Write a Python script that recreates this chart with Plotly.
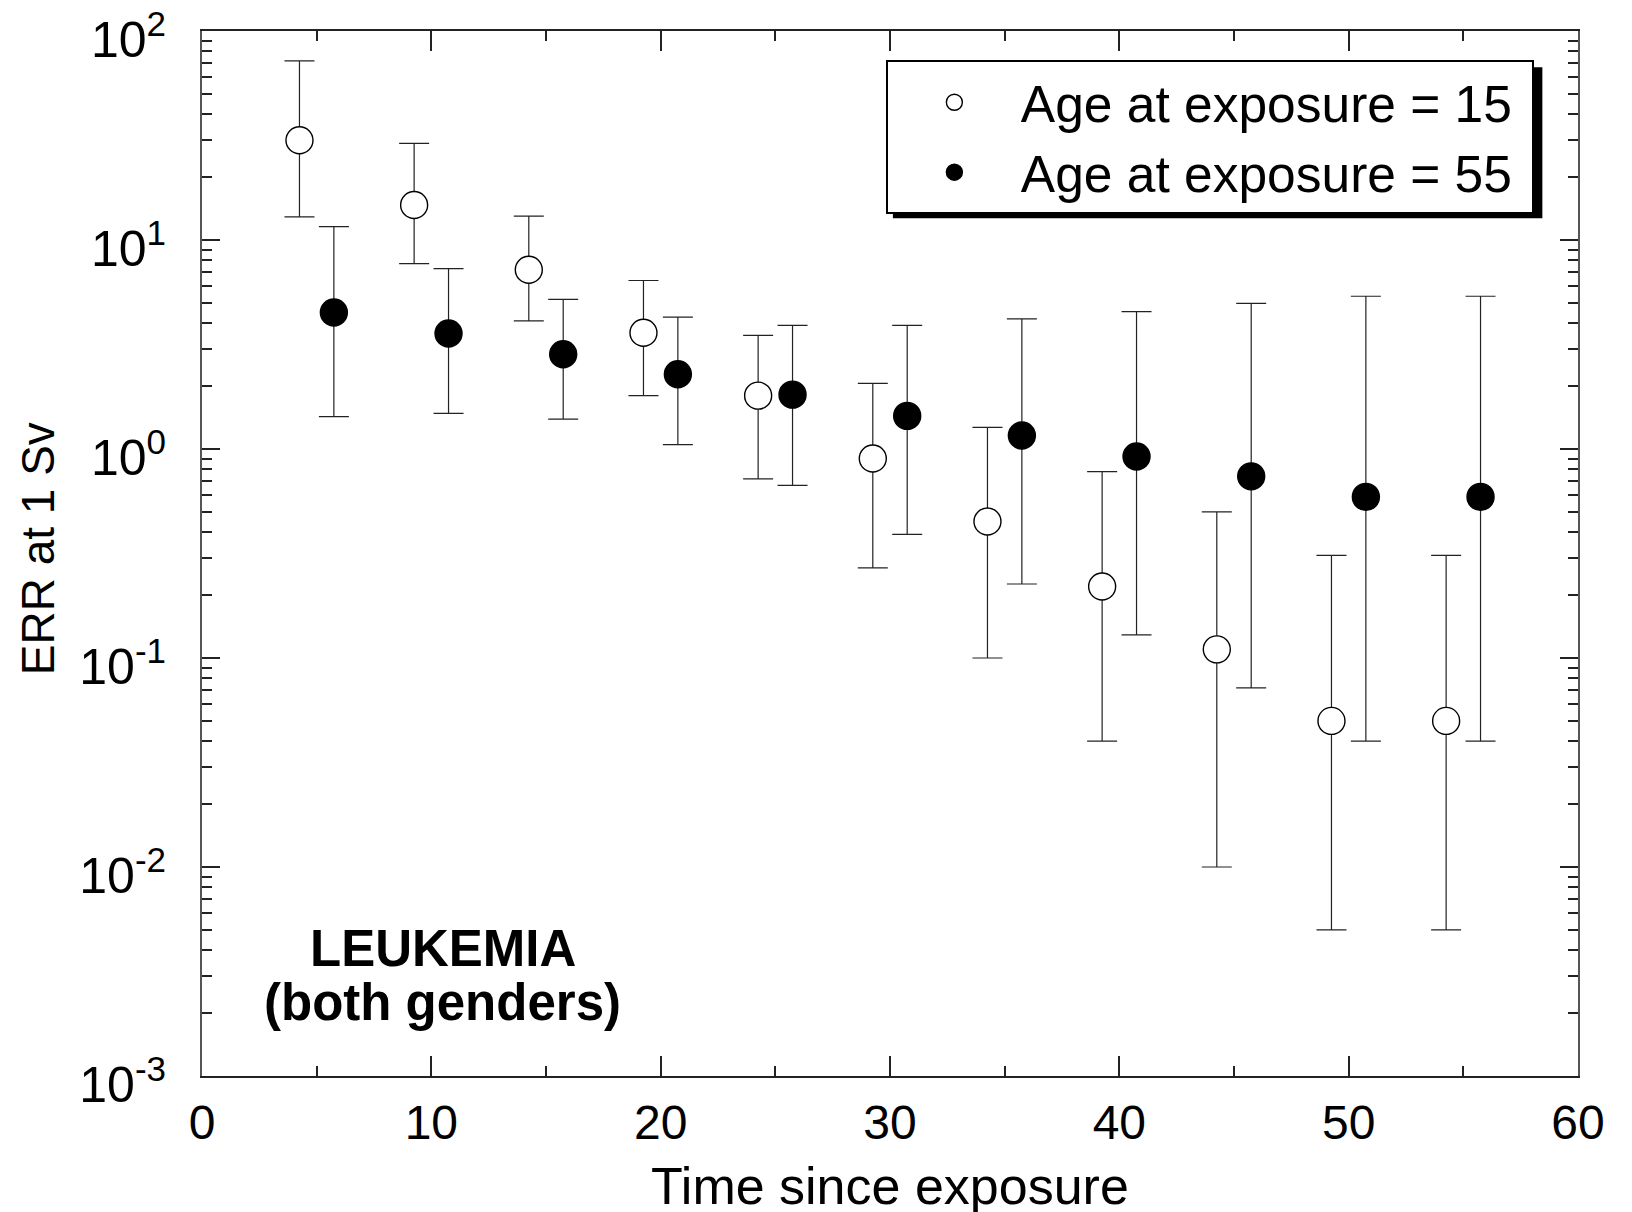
import plotly.graph_objects as go

# --- data ---
time_15 = [4.25, 9.25, 14.25, 19.25, 24.25, 29.25, 34.25, 39.25, 44.25, 49.25, 54.25]
err_15 = [30, 14.7, 7.2, 3.6, 1.8, 0.9, 0.45, 0.22, 0.11, 0.05, 0.05]
upper_15 = [72, 29, 13, 6.4, 3.5, 2.06, 1.27, 0.78, 0.50, 0.31, 0.31]
lower_15 = [12.9, 7.7, 4.1, 1.8, 0.72, 0.27, 0.10, 0.04, 0.01, 0.005, 0.005]

time_55 = [5.75, 10.75, 15.75, 20.75, 25.75, 30.75, 35.75, 40.75, 45.75, 50.75, 55.75]
err_55 = [4.5, 3.57, 2.84, 2.28, 1.82, 1.44, 1.16, 0.92, 0.74, 0.59, 0.59]
upper_55 = [11.6, 7.3, 5.2, 4.28, 3.9, 3.9, 4.19, 4.54, 4.97, 5.38, 5.38]
lower_55 = [1.43, 1.48, 1.39, 1.05, 0.67, 0.39, 0.226, 0.129, 0.072, 0.04, 0.04]

x_tickvals = [0, 10, 20, 30, 40, 50, 60]
y_tickvals = [1e-3, 1e-2, 1e-1, 1, 10, 100]
y_ticktext = ["10<sup>-3</sup>", "10<sup>-2</sup>", "10<sup>-1</sup>",
              "10<sup>0</sup>", "10<sup>1</sup>", "10<sup>2</sup>"]

FONT = "Liberation Sans, Arial, sans-serif"
NBSP = "\u00a0"

fig = go.Figure()

#--- series
for name, xs, ys, up, lo, fill in [
    ("Age at exposure = 15", time_15, err_15, upper_15, lower_15, "white"),
    ("Age at exposure = 55", time_55, err_55, upper_55, lower_55, "black"),
]:
    fig.add_trace(go.Scatter(
        x=xs, y=ys, name=name + NBSP, mode="markers",
        marker=dict(symbol="circle", size=27, color=fill,
                    line=dict(color="black", width=1.4)),
        error_y=dict(type="data", symmetric=False,
                     array=[u - v for u, v in zip(up, ys)],
                     arrayminus=[v - l for v, l in zip(ys, lo)],
                     color="#222", thickness=1.2, width=15),
    ))

#--- axes
minor_y = [k * 10.0**e for e in range(-3, 2) for k in range(2, 10)]
fig.update_xaxes(
    range=[0, 60], tickmode="array", tickvals=x_tickvals,
    ticks="inside", ticklen=20, tickwidth=1.5, tickcolor="#222",
    minor=dict(tickmode="array", tickvals=[5, 15, 25, 35, 45, 55],
               ticks="inside", ticklen=10, tickwidth=1.5, tickcolor="#222"),
    showline=True, linecolor="#222", linewidth=1.5, mirror="ticks",
    showgrid=False, zeroline=False, automargin=False,
    ticklabelstandoff=4, ticklabeloverflow="allow",
    tickfont=dict(family=FONT, size=48, color="black"),
)
fig.update_yaxes(
    type="log", range=[-3, 2], tickmode="array",
    tickvals=y_tickvals, ticktext=y_ticktext,
    ticks="inside", ticklen=18, tickwidth=1.5, tickcolor="#222",
    minor=dict(tickmode="array", tickvals=minor_y,
               ticks="inside", ticklen=10, tickwidth=1.5, tickcolor="#222"),
    showline=True, linecolor="#555", linewidth=2, mirror="ticks",
    showgrid=False, zeroline=False, automargin=False,
    ticklabelstandoff=24, ticklabelshift=8, ticklabeloverflow="allow",
    tickfont=dict(family=FONT, size=50, color="black"),
)

#--- axis titles
fig.add_annotation(xref="paper", yref="paper", x=0.5, y=-0.105,
                   text="Time since exposure", showarrow=False,
                   xanchor="center", yanchor="middle",
                   font=dict(family=FONT, size=52, color="black"))
fig.add_annotation(xref="paper", yref="paper", x=-0.1192, y=0.505,
                   text="ERR at 1 Sv", showarrow=False, textangle=-90,
                   xanchor="center", yanchor="middle",
                   font=dict(family=FONT, size=46, color="black"))

#--- labels inside plot
fig.add_annotation(x=10.5, y=-2.392, text="<b>LEUKEMIA</b>", showarrow=False,
                   font=dict(family=FONT, size=51, color="black"))
fig.add_annotation(x=10.5, y=-2.646, text="<b>(both genders)</b>", showarrow=False,
                   font=dict(family=FONT, size=51, color="black"))

#--- legend + drop shadow
fig.add_shape(type="rect", xref="paper", yref="paper",
              x0=0.5021, x1=0.9741, y0=0.8207, y1=0.9653,
              fillcolor="black", line=dict(width=0), layer="below")
fig.update_layout(
    width=1632, height=1212,
    margin=dict(l=194, r=62, t=23, b=144),
    plot_bgcolor="white", paper_bgcolor="white",
    font=dict(family=FONT, color="black"),
    legend=dict(x=0.497, y=0.972, xanchor="left", yanchor="top",
                bgcolor="white", bordercolor="black", borderwidth=2,
                font=dict(family=FONT, size=51.5, color="black"),
                itemwidth=123, tracegroupgap=0),
    showlegend=True,
)

fig.write_html("out.html")
